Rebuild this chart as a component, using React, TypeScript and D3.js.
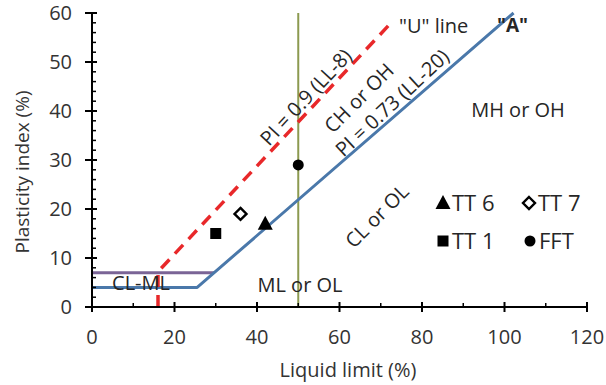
import * as d3 from 'd3';

// axis ticks
const xMajor = [0, 20, 40, 60, 80, 100, 120];
const xMinor = [10, 30, 50, 70, 90, 110];
const yMajor = [0, 10, 20, 30, 40, 50, 60];
const yMinor = [2, 4, 6, 8, 12, 14, 16, 18, 22, 24, 26, 28, 32, 34, 36, 38, 42, 44, 46, 48, 52, 54, 56, 58];

// boundary lines [LL, PI]
const aLine: [number, number][] = [[0, 4], [25.5, 4], [102.2, 60]];
const uLine: [number, number][] = [[16, 0], [16, 7.2], [72.5, 58]];
const clmlLine: [number, number][] = [[0, 7], [29.6, 7]];
const llLine: [number, number][] = [[50, 0], [50, 60]];

// samples
const sampleNames = ['TT 6', 'TT 7', 'TT 1', 'FFT'];
const sampleLL = [42, 36, 30, 50];
const samplePI = [17, 19, 15, 29];

const FONT = '"Open Sans", sans-serif';
const TXT = '#262626';

function Marker({ name, x, y }: { name: string; x: number; y: number }) {
  if (name === 'TT 6')
    return <path d={`M${x},${y - 8}L${x + 7.5},${y + 6}L${x - 7.5},${y + 6}Z`} fill="#000" />;
  if (name === 'TT 7')
    return (
      <path
        d={`M${x},${y - 6}L${x + 6},${y}L${x},${y + 6}L${x - 6},${y}Z`}
        fill="#fff"
        stroke="#000"
        strokeWidth={2.4}
      />
    );
  if (name === 'TT 1') return <rect x={x - 5.5} y={y - 5.5} width={11} height={11} fill="#000" />;
  return <circle cx={x} cy={y} r={5.5} fill="#000" />;
}

export default function App() {
  const width = 606;
  const height = 385;
  const x = d3.scaleLinear().domain([0, 120]).range([92, 587]);
  const y = d3.scaleLinear().domain([0, 60]).range([307, 13]);
  const line = d3
    .line<[number, number]>()
    .x((d) => x(d[0]))
    .y((d) => y(d[1]));

  const legendPos = [
    [443, 203],
    [529, 203],
    [443, 241],
    [530, 241],
  ];

  return (
    <svg
      width={width}
      height={height}
      style={{ position: 'absolute', left: 0, top: 0, background: '#fff' }}
      fontFamily={FONT}
    >
      {/* boundary lines */}
      <path d={line(llLine)!} fill="none" stroke="#8c9a50" strokeWidth={2} />
      <path d={line(clmlLine)!} fill="none" stroke="#7a6496" strokeWidth={3} />
      <path d={line(aLine)!} fill="none" stroke="#4a78aa" strokeWidth={3} strokeLinejoin="round" />
      <path
        d={line(uLine)!}
        fill="none"
        stroke="#e8282a"
        strokeWidth={3.5}
        strokeDasharray="12,8"
      />

      {/* axes */}
      <line x1={x(0)} x2={x(120)} y1={y(0)} y2={y(0)} stroke="#000" strokeWidth={2} />
      <line x1={x(0)} x2={x(0)} y1={y(0)} y2={y(60)} stroke="#000" strokeWidth={2} />
      {xMajor.map((t) => (
        <line key={t} x1={x(t)} x2={x(t)} y1={y(0) - 5} y2={y(0) + 5} stroke="#000" strokeWidth={2} />
      ))}
      {xMinor.map((t) => (
        <line key={t} x1={x(t)} x2={x(t)} y1={y(0) - 4} y2={y(0)} stroke="#000" strokeWidth={1.5} />
      ))}
      {yMajor.map((t) => (
        <line key={t} x1={x(0) - 7} x2={x(0) + 5} y1={y(t)} y2={y(t)} stroke="#000" strokeWidth={2} />
      ))}
      {yMinor.map((t) => (
        <line key={t} x1={x(0)} x2={x(0) + 4} y1={y(t)} y2={y(t)} stroke="#000" strokeWidth={1.5} />
      ))}
      {xMajor.map((t) => (
        <text key={t} x={x(t)} y={344} textAnchor="middle" fontSize={20} fill="#333">
          {t}
        </text>
      ))}
      {yMajor.map((t) => (
        <text key={t} x={72} y={y(t) + 7} textAnchor="end" fontSize={20} fill="#333">
          {t}
        </text>
      ))}
      <text x={348} y={377} textAnchor="middle" fontSize={20} fill="#333">
        Liquid limit (%)
      </text>
      <text
        transform="translate(29,172) rotate(-90)"
        textAnchor="middle"
        fontSize={19}
        fill="#333"
      >
        Plasticity index (%)
      </text>

      {/* zone labels */}
      <text x={141} y={290} textAnchor="middle" fontSize={20} fill={TXT}>
        CL-ML
      </text>
      <text x={300} y={292} textAnchor="middle" fontSize={20} fill={TXT}>
        ML or OL
      </text>
      <text x={518} y={117} textAnchor="middle" fontSize={20} fill={TXT}>
        MH or OH
      </text>
      <text transform="translate(382,221) rotate(-45)" textAnchor="middle" fontSize={20} fill={TXT}>
        CL or OL
      </text>
      <text transform="translate(364,103) rotate(-45)" textAnchor="middle" fontSize={20} fill={TXT}>
        CH or OH
      </text>
      <text transform="translate(311,102) rotate(-47)" textAnchor="middle" fontSize={20} fill={TXT}>
        PI = 0.9 (LL-8)
      </text>
      <text transform="translate(397,108) rotate(-43)" textAnchor="middle" fontSize={20} fill={TXT}>
        PI = 0.73 (LL-20)
      </text>
      <text x={399} y={33} fontSize={20} fill={TXT}>
        "U" line
      </text>
      <text x={497} y={32} fontSize={19} fontWeight="bold" fill={TXT}>
        "A"
      </text>

      {/* samples */}
      {sampleNames.map((n, i) => (
        <Marker key={n} name={n} x={x(sampleLL[i])} y={y(samplePI[i])} />
      ))}

      {/* legend */}
      {sampleNames.map((n, i) => (
        <g key={n}>
          <Marker name={n} x={legendPos[i][0]} y={legendPos[i][1]} />
          <text x={legendPos[i][0] + 9} y={legendPos[i][1] + 8} fontSize={22} fill={TXT}>
            {n}
          </text>
        </g>
      ))}
    </svg>
  );
}
